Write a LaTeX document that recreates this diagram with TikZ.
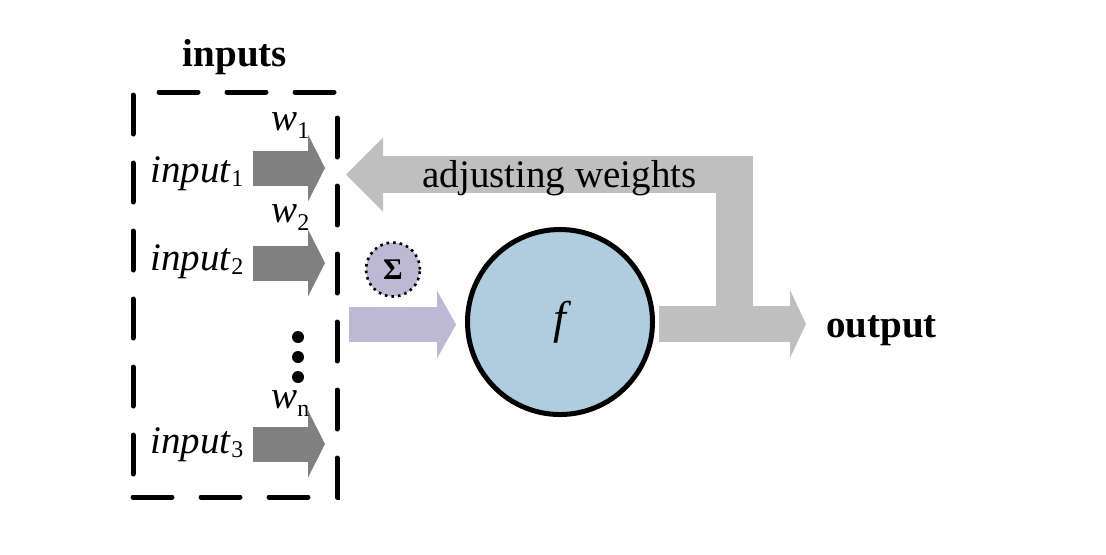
\documentclass[tikz,border=0pt]{standalone}
\usepackage{fontspec}
\setmainfont{Liberation Serif}
\usepackage{tikz}
\usetikzlibrary{arrows.meta,positioning}
\definecolor{darkgrey}{HTML}{808080}
\definecolor{lightgrey}{HTML}{BFBFBF}
\definecolor{lilac}{HTML}{BDB9D4}
\definecolor{paleblue}{HTML}{AFCDDE}
\newcommand{\sbs}[2][-2pt]{\raisebox{#1}{\fontsize{12}{14}\selectfont #2}}

\begin{document}
\begin{tikzpicture}[x=0.5pt, y=-0.5pt, font=\fontsize{19.5}{23}\selectfont,
	txt/.style={inner sep=0pt},
	inbox/.style={draw, line width=2.5pt, line cap=round, dash pattern=on 19.5pt off 14.5pt, minimum width=102pt, minimum height=202.5pt, inner sep=0pt},
	inarrow/.style={draw=darkgrey, line width=17.5pt, -{Triangle[length=8.5pt, width=33.5pt, line width=0pt]}},
	sumarrow/.style={draw=lilac, line width=17.5pt, -{Triangle[length=9.5pt, width=34pt, line width=0pt]}},
	outarrow/.style={draw=lightgrey, line width=18pt, -{Triangle[length=8pt, width=34pt, line width=0pt]}},
	fbarrow/.style={draw=lightgrey, line width=18.5pt, -{Triangle[length=18.5pt, width=37pt, line width=0pt]}}]
%	\draw [help lines] (0,0) grid (1106,554);
	\useasboundingbox (0,0) rectangle (1106,554);
	\node [inbox] (box) at (235,294.5) {};
	\node [txt, above=7pt of box, font=\fontsize{19.5}{23}\selectfont\bfseries] (title) {inputs};
	% inputs with their weights
	\foreach \i/\y/\b/\wb/\wi in {1/168/182/130/1, 2/263/270/222/2, 3/444/453/408/n} {
		\coordinate (s\i) at (253,\y);
		\coordinate (t\i) at (325,\y);
		\draw [inarrow] (s\i) -- (t\i);
		\node [txt, anchor=base west] (in\i) at (150,\b) {\textit{input}\sbs{\i}};
		\node [txt, anchor=base west] (w\i) at (271,\wb) {\textit{w}\sbs[-4pt]{\wi}};
	}
	\foreach \k/\y in {1/337, 2/357, 3/377}
		\fill (298,\y) circle (3pt);
	% summation and activation
	\node [circle, draw, dotted, line width=1.3pt, fill=lilac, minimum size=27pt, inner sep=0pt, font=\fontsize{15}{18}\selectfont\bfseries] (sum) at (393,269.5) {Σ};
	\node [circle, draw, line width=2.5pt, fill=paleblue, minimum size=92.5pt, font=\fontsize{23}{27}\selectfont\itshape] (f) at (560,322) {f};
	\node [txt, anchor=base west, font=\fontsize{19.5}{23}\selectfont\bfseries] (out) at (826,337) {output};
	\coordinate (sumstart) at (349,324.5);
	\draw [sumarrow] (sumstart) -- ([xshift=-4.5pt]f.west |- sumstart);
	% output and feedback
	\coordinate (split) at (734.5,324);
	\coordinate (fbtip) at (346,174.5);
	\draw [fbarrow] (split) |- (fbtip);
	\draw [outarrow] ([xshift=2pt]f.east |- split) -- ([xshift=-10pt]out.west |- split);
	\node [txt, anchor=base] (adj) at (559.5,187) {adjusting weights};
\end{tikzpicture}
\end{document}
